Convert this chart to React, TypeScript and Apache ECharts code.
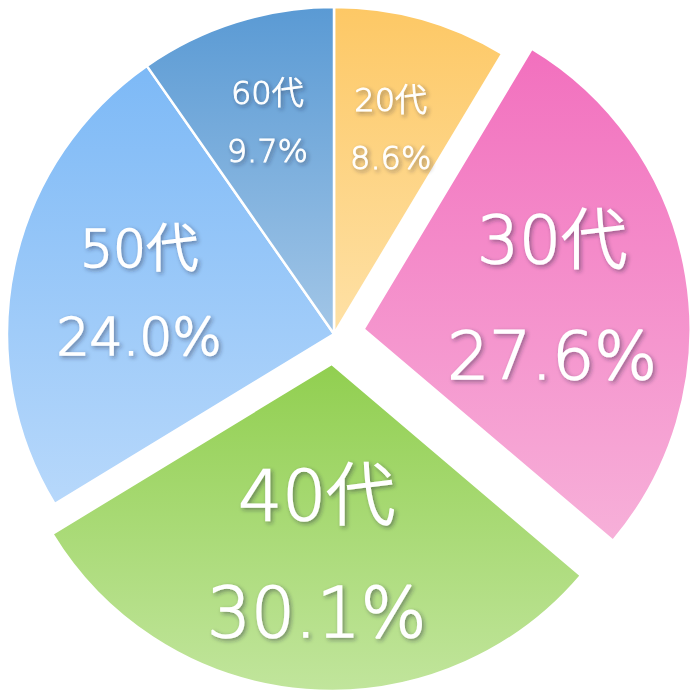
import { useEffect, useRef } from 'react'
import * as echarts from 'echarts'

// 年代別の構成比
const ageGroups = ['20代', '30代', '40代', '50代', '60代']
const shares = [8.6, 27.6, 30.1, 24.0, 9.7]
const exploded = [false, true, true, false, false]

// グラデーション（上 → 下）
const topColors = ['#FDC865', '#F270BE', '#91CF50', '#7DB9F6', '#5A9AD4']
const bottomColors = ['#FEE1A6', '#F7B0D9', '#C1E59C', '#B7D8FB', '#A2C6E7']

// ラベルの大きさ・中心からの距離（半径比）
const labelSizes = [32, 66, 69, 52, 32]
const labelLineHeights = [58, 116, 117, 88, 58]
const labelRadius = [0.64, 0.575, 0.575, 0.6, 0.67]

const CX = 334
const CY = 334
const R = 327

export default function App() {
  const chartRef = useRef<HTMLDivElement>(null)

  useEffect(() => {
    if (!chartRef.current) return
    const chart = echarts.init(chartRef.current, null, { renderer: 'svg' })

    const total = shares.reduce((a, b) => a + b, 0)
    // 各スライスの中央角（上から時計回り）
    const midAngles: number[] = []
    let acc = 0
    shares.forEach(v => {
      midAngles.push(((acc + v / 2) / total) * Math.PI * 2)
      acc += v
    })

    const data = ageGroups.map((name, i) => ({
      name,
      value: shares[i],
      selected: exploded[i],
      itemStyle: {
        color: new echarts.graphic.LinearGradient(0, 0, 0, 1, [
          { offset: 0, color: topColors[i] },
          { offset: 1, color: bottomColors[i] },
        ]),
      },
      label: {
        fontSize: labelSizes[i],
        lineHeight: labelLineHeights[i],
        textBorderWidth: labelSizes[i] > 40 ? 1.6 : 0.9,
      },
    }))

    const option: echarts.EChartsOption = {
      animation: false,
      backgroundColor: '#ffffff',
      series: [
        {
          type: 'pie',
          center: [CX, CY],
          radius: [0, R],
          startAngle: 90,
          clockwise: true,
          selectedMode: 'multiple',
          selectedOffset: 30,
          silent: true,
          itemStyle: { borderColor: '#ffffff', borderWidth: 2.5 },
          emphasis: { disabled: true },
          label: {
            show: true,
            position: 'inside',
            color: '#ffffff',
            fontFamily: '"DejaVu Sans", "Noto Sans CJK JP", sans-serif',
            fontWeight: 300,
            align: 'center',
            textBorderColor: '#ffffff',
            textShadowColor: 'rgba(40,40,60,0.45)',
            textShadowBlur: 4,
            textShadowOffsetX: 2,
            textShadowOffsetY: 2,
            formatter: (p: any) => `${p.name}\n${Number(p.value).toFixed(1)}%`,
          },
          labelLine: { show: false },
          labelLayout: (p: any) => {
            const i = p.dataIndex
            const shift = (labelRadius[i] - 0.5) * R
            return {
              dx: shift * Math.sin(midAngles[i]),
              dy: -shift * Math.cos(midAngles[i]),
            }
          },
          data,
        },
      ],
    }

    chart.setOption(option)
    return () => chart.dispose()
  }, [])

  return (
    <div
      ref={chartRef}
      style={{ position: 'fixed', left: 0, top: 0, width: 700, height: 700 }}
    />
  )
}
